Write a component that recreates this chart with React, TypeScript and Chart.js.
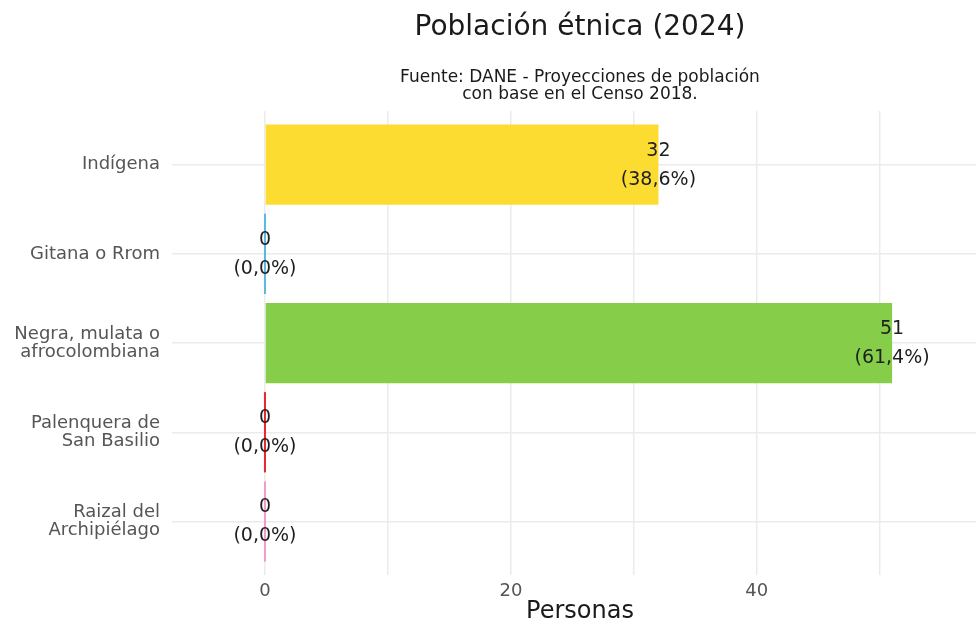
import React, { useEffect, useRef } from "react";
import { Chart, registerables } from "chart.js";

Chart.register(...registerables);

const categories: string[][] = [
  ["Indígena"],
  ["Gitana o Rrom"],
  ["Negra, mulata o", "afrocolombiana"],
  ["Palenquera de", "San Basilio"],
  ["Raizal del", "Archipiélago"],
];
const values: number[] = [32, 0, 51, 0, 0];
const percents: string[] = ["38,6", "0,0", "61,4", "0,0", "0,0"];
const barColors: string[] = ["#FDDC32", "#5BB8E0", "#86CE4A", "#E8262B", "#F49AC8"];
const xTickValues: number[] = [0, 10, 20, 30, 40, 50];
const xTickLabels: number[] = [0, 20, 40];
const titleText = "Población étnica (2024)";
const subtitleLines: string[] = ["Fuente: DANE - Proyecciones de población", "con base en el Censo 2018."];
const xTitle = "Personas";

const FONT = "'DejaVu Sans', Verdana, sans-serif";

const labelPlugin = {
  id: "barLabels",
  afterDatasetsDraw(chart: any) {
    const ctx = chart.ctx;
    const meta = chart.getDatasetMeta(0);
    ctx.save();
    ctx.font = `19px ${FONT}`;
    ctx.fillStyle = "#1f1f1f";
    ctx.textAlign = "center";
    ctx.textBaseline = "middle";
    meta.data.forEach((bar: any, i: number) => {
      const x = chart.scales.x.getPixelForValue(values[i]);
      ctx.fillText(String(values[i]), x, bar.y - 14);
      ctx.fillText(`(${percents[i]}%)`, x, bar.y + 15);
    });
    ctx.restore();
  },
};

export default function App() {
  const ref = useRef<HTMLCanvasElement | null>(null);
  useEffect(() => {
    if (!ref.current) return;
    const chart = new Chart(ref.current, {
      type: "bar",
      data: {
        datasets: [
          {
            data: values.map((v, i) => ({ x: v, y: i + 1 })),
            backgroundColor: barColors,
            borderWidth: 0,
            minBarLength: 2,
            categoryPercentage: 0.9,
            barPercentage: 1,
          },
        ],
      },
      options: {
        indexAxis: "y",
        animation: false,
        responsive: false,
        maintainAspectRatio: false,
        layout: { padding: { top: 0, bottom: 0, left: 0, right: 0 } },
        plugins: {
          legend: { display: false },
          tooltip: { enabled: false },
          title: {
            display: true,
            text: titleText,
            fullSize: false,
            color: "#1a1a1a",
            font: { family: FONT, size: 28, weight: "normal", lineHeight: 1.2 },
            padding: { top: 11, bottom: 0 },
          },
          subtitle: {
            display: true,
            text: subtitleLines,
            fullSize: false,
            color: "#1a1a1a",
            font: { family: FONT, size: 17, weight: "normal", lineHeight: 1.0 },
            padding: { top: 24, bottom: 8.5 },
          },
        },
        scales: {
          x: {
            type: "linear",
            min: -7.56,
            max: 58.8,
            afterFit: (s: any) => {
              s.height = 51;
            },
            afterBuildTicks: (s: any) => {
              s.ticks = xTickValues.map((v) => ({ value: v }));
            },
            ticks: {
              padding: 6,
              color: "#555555",
              font: { family: FONT, size: 18 },
              callback: (v: any) => (xTickLabels.includes(Number(v)) ? String(v) : ""),
            },
            grid: { color: "#EBEBEB", lineWidth: 1.5, drawTicks: false },
            border: { display: false },
            title: {
              display: true,
              text: xTitle,
              color: "#1a1a1a",
              font: { family: FONT, size: 24, lineHeight: 1.2 },
              padding: { top: 0, bottom: 0 },
            },
          },
          y: {
            type: "linear",
            reverse: true,
            offset: false,
            min: 0.4,
            max: 5.6,
            afterFit: (s: any) => {
              s.width = 172;
            },
            afterBuildTicks: (s: any) => {
              s.ticks = categories.map((_, i) => ({ value: i + 1 }));
            },
            ticks: {
              padding: 12,
              color: "#555555",
              font: { family: FONT, size: 18, lineHeight: 1.0 },
              callback: (v: any) => categories[Number(v) - 1] ?? "",
            },
            grid: { color: "#EBEBEB", lineWidth: 1.5, drawTicks: false, offset: false },
            border: { display: false },
          },
        },
      } as any,
      plugins: [labelPlugin],
    });
    return () => chart.destroy();
  }, []);
  return (
    <div style={{ position: "absolute", left: 0, top: 0, width: 976, height: 620, overflow: "hidden", background: "#fff" }}>
      <canvas ref={ref} width={988} height={626} style={{ width: 988, height: 626, display: "block" }} />
    </div>
  );
}
